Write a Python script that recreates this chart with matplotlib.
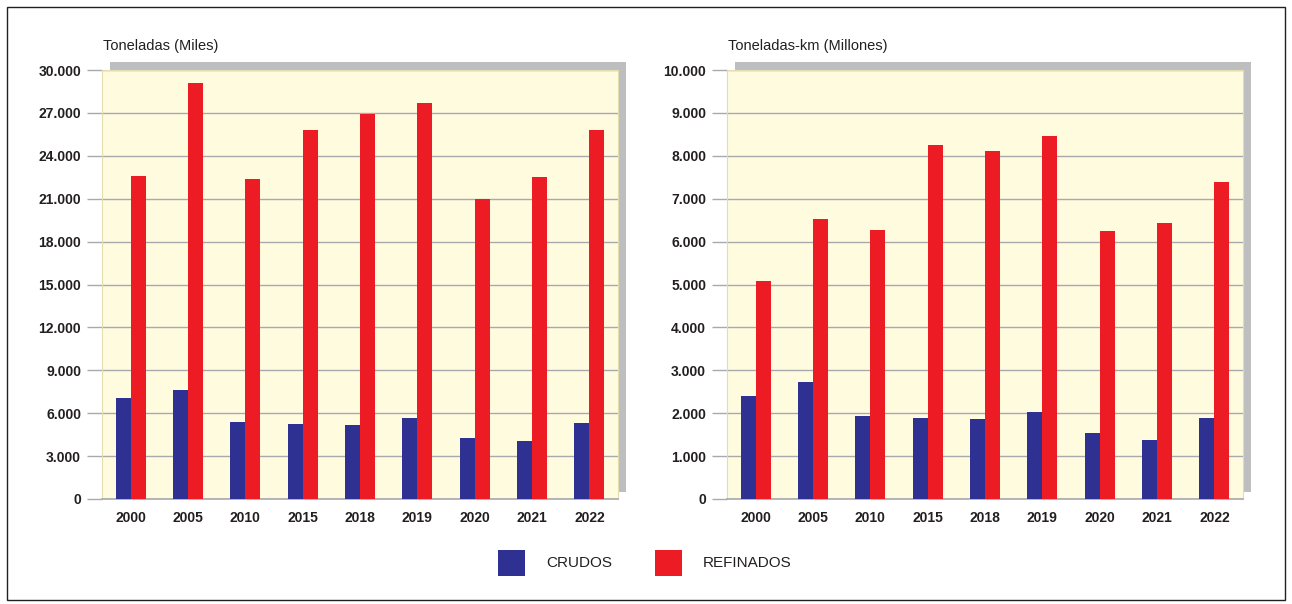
import numpy as np
import matplotlib.pyplot as plt
from matplotlib.patches import Rectangle

years = ['2000', '2005', '2010', '2015', '2018', '2019', '2020', '2021', '2022']

# toneladas (miles)
crudos_ton = [7050, 7620, 5390, 5250, 5180, 5660, 4270, 4060, 5320]
refinados_ton = [22590, 29090, 22380, 25800, 26920, 27690, 20980, 22520, 25800]

# toneladas-km (millones)
crudos_tkm = [2400, 2730, 1935, 1890, 1865, 2030, 1540, 1375, 1890]
refinados_tkm = [5080, 6525, 6270, 8250, 8110, 8460, 6245, 6430, 7390]

blue = '#2E3192'
red = '#ED1C24'
cream = '#FFFBDF'
shadow = '#BCBEC0'
grid = '#A7A9AC'
txt = '#231F20'

plt.rcParams['font.family'] = ['Liberation Sans', 'DejaVu Sans']

W, H = 1292, 604
fig = plt.figure(figsize=(W / 100, H / 100), dpi=100)

# outer frame
fig.patches.append(Rectangle((7 / W, 4 / H), (1285 - 7) / W, (597 - 4) / H,
                             transform=fig.transFigure, fill=False,
                             edgecolor='#231F20', linewidth=1))


def panel(x0, x1, crudos, refinados, ymax, step, title):
    top, bot = 70, 499
    # drop shadow behind the plot area
    sh = fig.add_axes([(x0 + 8) / W, (H - bot + 7) / H, (x1 - x0) / W, (bot - top + 1) / H])
    sh.set_facecolor(shadow)
    sh.set_xticks([])
    sh.set_yticks([])
    for s in sh.spines.values():
        s.set_visible(False)
    sh.set_zorder(0)

    ax = fig.add_axes([x0 / W, (H - bot) / H, (x1 - x0) / W, (bot - top) / H])
    ax.set_zorder(1)
    ax.set_facecolor(cream)
    x = np.arange(len(years))
    w = 0.26
    ax.bar(x - w / 2, crudos, w, color=blue, zorder=3)
    ax.bar(x + w / 2, refinados, w, color=red, zorder=3)
    ax.set_xlim(-0.5, len(years) - 0.5)
    ax.set_ylim(0, ymax)
    ticks = np.arange(0, ymax + 1, step)
    ax.set_yticks(ticks)
    ax.set_yticklabels(['0' if t == 0 else f'{int(t):,}'.replace(',', '.') for t in ticks],
                       fontsize=10, fontweight='bold', color=txt)
    ax.set_xticks(x)
    ax.set_xticklabels(years, fontsize=10, fontweight='bold', color=txt)
    ax.tick_params(axis='y', length=11, width=1, color=grid, pad=4)
    ax.tick_params(axis='x', length=0, pad=9)
    ax.yaxis.grid(True, color=grid, linewidth=1)
    ax.set_axisbelow(True)
    for s in ['top', 'right', 'left']:
        ax.spines[s].set_color('#E3DDB0')
        ax.spines[s].set_linewidth(0.8)
    ax.spines['bottom'].set_color(grid)
    ax.spines['bottom'].set_linewidth(1.2)
    fig.text((x0 + 1) / W, (H - 46) / H, title, fontsize=10.5, color=txt,
             ha='left', va='center')
    return ax


panel(102, 618, crudos_ton, refinados_ton, 30000, 3000, 'Toneladas (Miles)')
panel(727, 1243, crudos_tkm, refinados_tkm, 10000, 1000, 'Toneladas-km (Millones)')

# legend
fig.patches.append(Rectangle((498 / W, (H - 576) / H), 27 / W, 26 / H,
                             transform=fig.transFigure, facecolor=blue, edgecolor='none'))
fig.text(546 / W, (H - 563) / H, 'CRUDOS', fontsize=11, color=txt, va='center')
fig.patches.append(Rectangle((655 / W, (H - 576) / H), 27 / W, 26 / H,
                             transform=fig.transFigure, facecolor=red, edgecolor='none'))
fig.text(703 / W, (H - 563) / H, 'REFINADOS', fontsize=11, color=txt, va='center')

fig.savefig('out.png', dpi=100)
